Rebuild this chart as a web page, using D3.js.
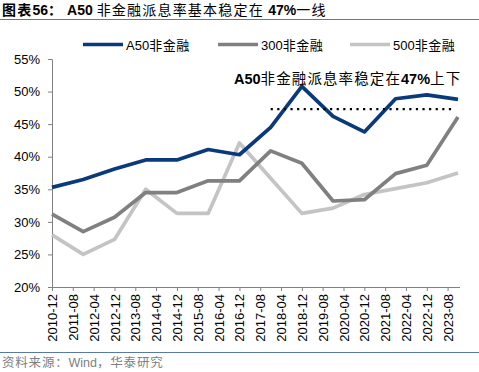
<!DOCTYPE html>
<html>
<head>
<meta charset="utf-8">
<script src="https://cdn.jsdelivr.net/npm/d3@7"></script>
<style>
  body { margin: 0; background: #fff; }
  svg { display: block; }
  .cjk { font-family: "Noto Sans CJK SC", "Liberation Sans", sans-serif; }
  .lat { font-family: "Liberation Sans", Arial, sans-serif; }
  .tick text { font-family: "Liberation Sans", Arial, sans-serif; font-size: 13px; fill: #000; }
</style>
</head>
<body>
<svg id="chart" width="479" height="372"></svg>
<script>
// chart data (percent, year-end values)
var dates = ["2010-12","2011-12","2012-12","2013-12","2014-12","2015-12","2016-12",
             "2017-12","2018-12","2019-12","2020-12","2021-12","2022-12","2023-12"];
var a50 = [35.3, 36.5, 38.1, 39.5, 39.5, 41.1, 40.3, 44.5, 50.8, 46.2, 43.8, 48.9, 49.5, 48.8];
var hs300 = [31.2, 28.5, 30.7, 34.5, 34.5, 36.3, 36.3, 40.9, 39.0, 33.2, 33.4, 37.4, 38.7, 46.1];
var zz500 = [28.0, 25.0, 27.3, 35.0, 31.3, 31.3, 42.1, 36.7, 31.3, 32.1, 34.2, 35.1, 36.0, 37.5];
var seriesNames = ["A50非金融", "300非金融", "500非金融"];
var yTicks = [20, 25, 30, 35, 40, 45, 50, 55];
var refLevel = 47.3;           // the dotted "47%" guide
var refFrom = "2017-12", refTo = "2023-12";

var parse = d3.timeParse("%Y-%m");
var svg = d3.select("#chart");

// scales
var x = d3.scaleTime()
    .domain([parse(dates[0]), parse(dates[dates.length - 1])])
    .range([52, 458]);
var y = d3.scaleLinear()
    .domain([20, 55])
    .range([287, 59]);

// helper: mixed latin / cjk runs in one text element
function runs(sel, parts, size, spacing) {
  parts.forEach(function(p) {
    sel.append("tspan")
      .attr("class", p[1] ? "lat" : "cjk")
      .style("font-weight", p[2] ? "bold" : "normal")
      .style("font-size", size + "px")
      .style("letter-spacing", p[1] ? "0px" : spacing + "px")
      .text(p[0]);
  });
}

// title + rules
var title = svg.append("text").attr("x", 2).attr("y", 15);
runs(title, [["图表", 0, 1], ["56", 1, 1], ["：", 0, 1], [" A50 ", 1, 1],
             ["非金融派息率基本稳定在 ", 0, 0], ["47%", 1, 1], ["一线", 0, 0]], 14, 1.2);

svg.append("line").attr("x1", 0).attr("x2", 479).attr("y1", 19.5).attr("y2", 19.5)
    .attr("stroke", "#5a7aa6").attr("stroke-width", 1);
svg.append("line").attr("x1", 0).attr("x2", 479).attr("y1", 352.5).attr("y2", 352.5)
    .attr("stroke", "#5a7aa6").attr("stroke-width", 1);

var src = svg.append("text").attr("x", 2).attr("y", 367).attr("fill", "#808080");
runs(src, [["资料来源：", 0, 0], ["Wind", 1, 0], ["，华泰研究", 0, 0]], 12.5, 0.8);

// y axis
var yAxis = svg.append("g").attr("transform", "translate(52,0)")
    .call(d3.axisLeft(y).tickValues(yTicks).tickSize(4).tickPadding(8)
      .tickFormat(function(d) { return d + "%"; }));
yAxis.select(".domain").attr("stroke", "#808080");
yAxis.selectAll(".tick line").attr("stroke", "#808080");

// x axis: ticks every 8 months from the first date
var xTicks = d3.range(0, 20).map(function(i) { return d3.timeMonth.offset(parse(dates[0]), i * 8); });
var xAxis = svg.append("g").attr("transform", "translate(0,287)")
    .call(d3.axisBottom(x).tickValues(xTicks).tickSize(4).tickSizeOuter(0)
      .tickFormat(d3.timeFormat("%Y-%m")));
xAxis.select(".domain").attr("stroke", "#808080").attr("d", "M52,0.5H460");
xAxis.selectAll(".tick line").attr("stroke", "#808080");
xAxis.selectAll(".tick text")
    .attr("transform", "rotate(-90)")
    .attr("text-anchor", "end")
    .attr("x", -7).attr("y", 0).attr("dy", "0.35em");

// lines
var colors = ["#0a3a7c", "#808080", "#c4c4c4"];
var allSeries = [a50, hs300, zz500];
var line = d3.line()
    .x(function(d, i) { return x(parse(dates[i])); })
    .y(function(d) { return y(d); });

[2, 1, 0].forEach(function(k) {
  svg.append("path").datum(allSeries[k])
    .attr("d", line)
    .attr("fill", "none")
    .attr("stroke", colors[k])
    .attr("stroke-width", 3.7)
    .attr("stroke-linejoin", "round");
});

// dotted guide
svg.append("line")
    .attr("x1", x(parse(refFrom))).attr("x2", x(parse(refTo)) - 3)
    .attr("y1", y(refLevel)).attr("y2", y(refLevel))
    .attr("stroke", "#000").attr("stroke-width", 2.4)
    .attr("stroke-dasharray", "2.2,4.4");

// annotation
var note = svg.append("text").attr("x", 234).attr("y", 84);
runs(note, [["A50", 1, 1], ["非金融派息率稳定在", 0, 0], ["47%", 1, 1], ["上下", 0, 0]], 14.5, 1.1);

// legend
var legend = svg.append("g").attr("class", "legend");
var legendX = [83, 218, 350];
seriesNames.forEach(function(name, k) {
  legend.append("line")
    .attr("x1", legendX[k]).attr("x2", legendX[k] + 40)
    .attr("y1", 44.5).attr("y2", 44.5)
    .attr("stroke", colors[k]).attr("stroke-width", 3.7);
  var t = legend.append("text").attr("x", legendX[k] + 43).attr("y", 49.5);
  runs(t, [[name.slice(0, 3), 1, 0], [name.slice(3), 0, 0]], 13, 0.5);
});
</script>
</body>
</html>
